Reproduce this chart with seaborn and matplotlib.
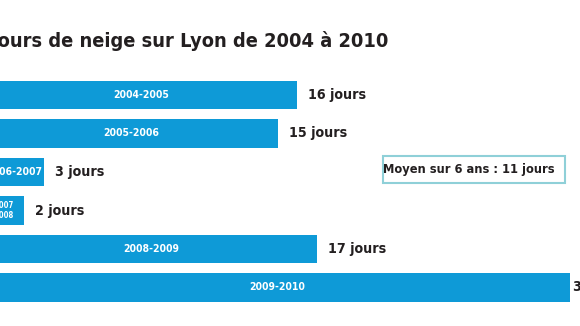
import matplotlib
matplotlib.use("Agg")
import matplotlib.pyplot as plt
from matplotlib.patches import Rectangle
from matplotlib import font_manager
import seaborn as sns
import pandas as pd

# ---- data ----
seasons = ["2004-2005", "2005-2006", "2006-2007", "2007\n2008", "2008-2009", "2009-2010"]
days = [16, 15, 3, 2, 17, 30]
value_labels = ["16 jours", "15 jours", "3 jours", "2 jours", "17 jours", "30 jours"]
title = "Jours de neige sur Lyon de 2004 à 2010"
note = "Moyen sur 6 ans : 11 jours"

BAR = "#0e9ad7"
INK = "#231f20"

sns.set_theme(style="white")
names = {f.name for f in font_manager.fontManager.ttflist}
cond = "Liberation Sans Narrow" if "Liberation Sans Narrow" in names else "DejaVu Sans"
plt.rcParams['font.family'] = [cond, 'DejaVu Sans']

W, H = 580, 326
fig = plt.figure(figsize=(W / 100, H / 100), dpi=100)
fig.patch.set_facecolor("white")
ax = fig.add_axes([0, 0, 1, 1])

df = pd.DataFrame({"season": seasons, "days": days})
sns.barplot(data=df, x="days", y="season", orient="h", color=BAR, saturation=1,
            width=0.753, ax=ax, edgecolor="none")

ax.set_xlim(15 / 19.5, (W + 15) / 19.5)
ax.set_ylim(5 + (H - 287.5) / 38.5, -95 / 38.5)
ax.axis("off")

n = len(days)
for i, (s, v, lab) in enumerate(zip(seasons, days, value_labels)):
    small = "\n" in s
    ax.text(v / 2, i, s, ha="center", va="center", color="white",
            fontsize=5.5 if small else 7.5, fontweight="bold", fontstretch="condensed",
            linespacing=1.15)
    off = 2 if i == n - 1 else 8
    ax.annotate(lab, xy=(v, i), xytext=(off, 0), textcoords="offset points",
                ha="left", va="center", color=INK, fontsize=10.2,
                fontweight="bold", fontstretch="condensed")

fig.text(-9 / W, 1 - 47 / H, title, ha="left", va="baseline", color=INK,
         fontsize=14.3, fontweight="bold", fontstretch="condensed")

fig.patches.append(Rectangle((383 / W, 1 - 183 / H), 182 / W, 27 / H,
                             transform=fig.transFigure, facecolor="white",
                             edgecolor="#8fd0d8", linewidth=1.5))
fig.text(469 / W, 1 - 170 / H, note, ha="center", va="center", color=INK,
         fontsize=9.2, fontweight="bold", fontstretch="condensed")

fig.savefig("out.png", dpi=100, facecolor="white")
